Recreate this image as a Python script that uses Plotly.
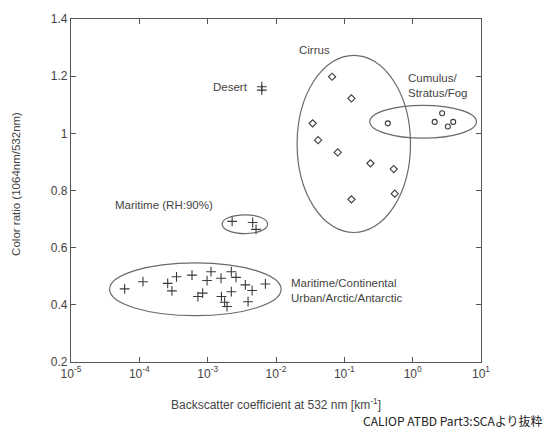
import plotly.graph_objects as go

# ---- data ----
mc_x = [6.1e-5, 1.13e-4, 2.6e-4, 3.0e-4, 3.5e-4, 5.9e-4, 9.8e-4, 1.12e-3, 1.57e-3, 2.22e-3,
        2.6e-3, 3.56e-3, 4.47e-3, 7.0e-3, 7.2e-4, 8.45e-4, 1.59e-3, 2.22e-3, 1.77e-3, 1.92e-3, 3.9e-3]
mc_y = [0.456, 0.481, 0.475, 0.449, 0.498, 0.504, 0.485, 0.516, 0.493, 0.516,
        0.496, 0.470, 0.450, 0.473, 0.429, 0.441, 0.429, 0.446, 0.409, 0.394, 0.411]
mar_x = [2.28e-3, 4.56e-3, 5.1e-3]
mar_y = [0.692, 0.688, 0.664]
des_x = [6.2e-3, 6.2e-3]
des_y = [1.163, 1.151]
cir_x = [0.0662, 0.127, 0.0344, 0.0413, 0.080, 0.241, 0.528, 0.547, 0.127]
cir_y = [1.198, 1.122, 1.035, 0.976, 0.933, 0.895, 0.875, 0.789, 0.769]
cum_x = [0.433, 2.10, 2.70, 3.27, 3.92]
cum_y = [1.035, 1.040, 1.070, 1.024, 1.040]

# ellipse extents: (log10 x0, log10 x1, y0, y1)
ellipses = [(-4.435, -1.925, 0.362, 0.547),
            (-2.789, -2.122, 0.649, 0.715),
            (-1.691, -0.032, 0.653, 1.273),
            (-0.628, 0.934, 0.983, 1.098)]

labels = [("Cirrus", -1.687, 1.290, "left"),
          ("Cumulus/<br>Stratus/Fog", -0.091, 1.167, "left"),
          ("Desert", -2.375, 1.162, "right"),
          ("Maritime (RH:90%)", -4.379, 0.748, "left"),
          ("Maritime/Continental<br>Urban/Arctic/Antarctic", -1.815, 0.450, "left")]

x_tickvals = [1e-5, 1e-4, 1e-3, 1e-2, 1e-1, 1, 10]
x_ticktext = ["10<sup>-5</sup>", "10<sup>-4</sup>", "10<sup>-3</sup>", "10<sup>-2</sup>",
              "10<sup>-1</sup>", "10<sup>0</sup>", "10<sup>1</sup>"]
y_tickvals = [0.2, 0.4, 0.6, 0.8, 1.0, 1.2, 1.4]
y_ticktext = ["0.2", "0.4", "0.6", "0.8", "1", "1.2", "1.4"]

FONT = "Liberation Sans, Arial, sans-serif"
MC = "#3a3a3a"

fig = go.Figure()
plus = dict(symbol="cross-thin-open", size=7, line=dict(width=1.1, color=MC), color=MC)
for xs, ys in [(mc_x, mc_y), (mar_x, mar_y), (des_x, des_y)]:
    fig.add_trace(go.Scatter(x=xs, y=ys, mode="markers", marker=plus, showlegend=False))
fig.add_trace(go.Scatter(x=cir_x, y=cir_y, mode="markers", showlegend=False,
                         marker=dict(symbol="diamond-open", size=5.5, line=dict(width=1.1, color=MC), color=MC)))
fig.add_trace(go.Scatter(x=cum_x, y=cum_y, mode="markers", showlegend=False,
                         marker=dict(symbol="circle-open", size=5, line=dict(width=1.1, color=MC), color=MC)))
# invisible trace on helper linear axis (log10 units)
fig.add_trace(go.Scatter(x=[-5, 1], y=[0.2, 0.2], xaxis="x2", mode="markers",
                         marker=dict(opacity=0), showlegend=False, hoverinfo="skip"))

for x0, x1, y0, y1 in ellipses:
    fig.add_shape(type="circle", xref="x2", yref="y", x0=x0, x1=x1, y0=y0, y1=y1,
                  line=dict(color="#6a6a6a", width=1.2))

for text, lx, ly, anc in labels:
    fig.add_annotation(text=text, xref="x2", yref="y", x=lx, y=ly, xanchor=anc, yanchor="middle",
                       showarrow=False, align="left", font=dict(family=FONT, size=11.5, color="#444"))

fig.add_annotation(text="Backscatter coefficient at 532 nm [km<sup>-1</sup>]", xref="paper", yref="paper",
                   x=0.5, y=-0.123, xanchor="center", yanchor="middle", showarrow=False,
                   font=dict(family=FONT, size=12, color="#444"))
fig.add_annotation(text="Color ratio (1064nm/532nm)", xref="paper", yref="paper", textangle=-90,
                   x=-0.136, y=0.52, xanchor="center", yanchor="middle", showarrow=False,
                   font=dict(family=FONT, size=11.5, color="#444"))
fig.add_annotation(text="CALIOP ATBD Part3:SCAより抜粋", xref="paper", yref="paper",
                   x=1.157, y=-0.172, xanchor="right", yanchor="middle", showarrow=False,
                   font=dict(family="Noto Sans CJK JP", size=12, color="#222"))

axis_common = dict(showgrid=False, zeroline=False, showline=True, linecolor="#555", linewidth=1.2,
                   mirror="ticks", ticks="inside", ticklen=5, tickcolor="#555",
                   tickfont=dict(family=FONT, size=12, color="#444"))
fig.update_layout(
    width=547, height=430,
    margin=dict(l=71, r=66, t=17, b=68),
    paper_bgcolor="white", plot_bgcolor="white",
    xaxis=dict(type="log", range=[-5, 1], tickvals=x_tickvals, ticktext=x_ticktext, **axis_common),
    xaxis2=dict(type="linear", range=[-5, 1], overlaying="x", visible=False, anchor="y"),
    yaxis=dict(range=[0.2, 1.4], tickvals=y_tickvals, ticktext=y_ticktext, **axis_common),
)
fig.write_html("out.html", config={"displayModeBar": False},
               post_script="document.body.style.margin='0';document.body.style.overflow='hidden';")
